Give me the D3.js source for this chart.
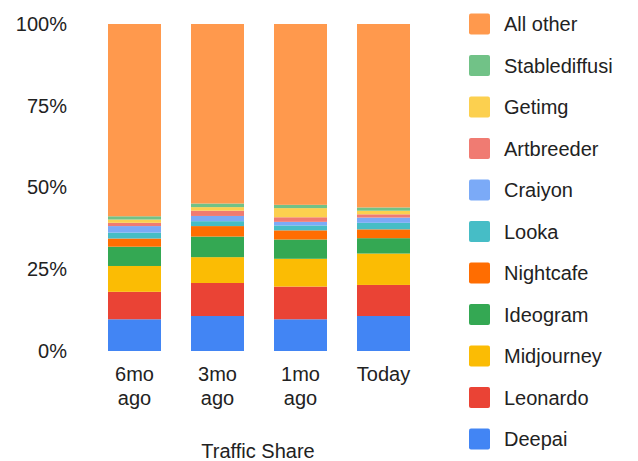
<!DOCTYPE html>
<html><head><meta charset="utf-8">
<script src="https://cdn.jsdelivr.net/npm/d3@7"></script>
<style>
html,body{margin:0;padding:0;background:#fff;}
svg{display:block;font-family:"Liberation Sans",Arial,sans-serif;}
</style></head>
<body><svg id="c" width="638" height="461"></svg>
<script>
const categories = ["6mo ago", "3mo ago", "1mo ago", "Today"];
const categoryLines = [["6mo","ago"],["3mo","ago"],["1mo","ago"],["Today"]];
const seriesNames = ["Deepai","Leonardo","Midjourney","Ideogram","Nightcafe","Looka","Craiyon","Artbreeder","Getimg","Stablediffusi","All other"];
const deepai        = [9.7, 10.7, 9.7, 10.7];
const leonardo      = [8.4, 10.1, 10.0, 9.5];
const midjourney    = [7.9, 7.9, 8.5, 9.6];
const ideogram      = [5.9, 6.3, 5.9, 4.7];
const nightcafe     = [2.5, 3.2, 2.8, 2.7];
const looka         = [1.8, 1.5, 1.5, 2.0];
const craiyon       = [2.0, 1.6, 1.1, 1.6];
const artbreeder    = [1.0, 1.6, 1.4, 1.0];
const getimg        = [1.0, 1.1, 2.8, 1.1];
const stablediffusion = [1.0, 1.1, 1.0, 1.0];
const allOther      = [58.8, 54.9, 55.3, 56.1];
const tickValues = [0, 0.25, 0.5, 0.75, 1];
const axisTitle = "Traffic Share";
const colors = ["#4285F4","#EA4335","#FBBC04","#34A853","#FF6D01","#46BDC6","#7BAAF7","#F07B72","#FCD04F","#71C287","#FF994D"];

const seriesValues = [deepai, leonardo, midjourney, ideogram, nightcafe, looka, craiyon, artbreeder, getimg, stablediffusion, allOther];
const table = categories.map((c, i) => {
  const row = {cat: c};
  seriesNames.forEach((s, j) => row[s] = seriesValues[j][i]);
  return row;
});

const svg = d3.select("#c");
const x = d3.scaleBand().domain(categories).range([93, 425]).paddingInner(30/83).paddingOuter(15/83);
const y = d3.scaleLinear().domain([0, 1]).range([351, 24]);
const color = d3.scaleOrdinal().domain(seriesNames).range(colors);

const stacked = d3.stack().keys(seriesNames).offset(d3.stackOffsetExpand)(table);

svg.append("g").selectAll("g").data(stacked).join("g")
  .attr("fill", d => color(d.key))
  .selectAll("rect").data(d => d).join("rect")
  .attr("x", d => x(d.data.cat))
  .attr("width", x.bandwidth())
  .attr("y", d => y(d[1]))
  .attr("height", d => y(d[0]) - y(d[1]));

// y axis
const yAxis = d3.axisLeft(y).tickValues(tickValues).tickFormat(d3.format(".0%")).tickSize(0).tickPadding(0);
const ya = svg.append("g").attr("transform", "translate(67,0)").call(yAxis);
ya.select(".domain").remove();
ya.selectAll("text").attr("font-size", 20).attr("fill", "#222").attr("font-family", "Liberation Sans, Arial, sans-serif");

// x axis labels
const xa = svg.append("g");
categories.forEach((c, i) => {
  const t = xa.append("text").attr("x", x(c) + x.bandwidth() / 2).attr("y", 381)
    .attr("text-anchor", "middle").attr("font-size", 20).attr("fill", "#222");
  categoryLines[i].forEach((ln, k) => t.append("tspan").attr("x", x(c) + x.bandwidth() / 2).attr("dy", k === 0 ? 0 : 24).text(ln));
});
svg.append("text").attr("x", 258).attr("y", 458).attr("text-anchor", "middle")
  .attr("font-size", 20).attr("fill", "#222").text(axisTitle);

// legend
const legendOrder = seriesNames.slice().reverse();
const lg = svg.append("g").selectAll("g").data(legendOrder).join("g")
  .attr("transform", (d, i) => `translate(469,${24 + i * 41.5})`);
lg.append("rect").attr("x", 0).attr("y", -10.5).attr("width", 21).attr("height", 21).attr("rx", 2)
  .attr("fill", d => color(d));
lg.append("text").attr("x", 35).attr("y", 0).attr("dy", "0.35em").attr("font-size", 20).attr("fill", "#222").text(d => d);
</script></body></html>
